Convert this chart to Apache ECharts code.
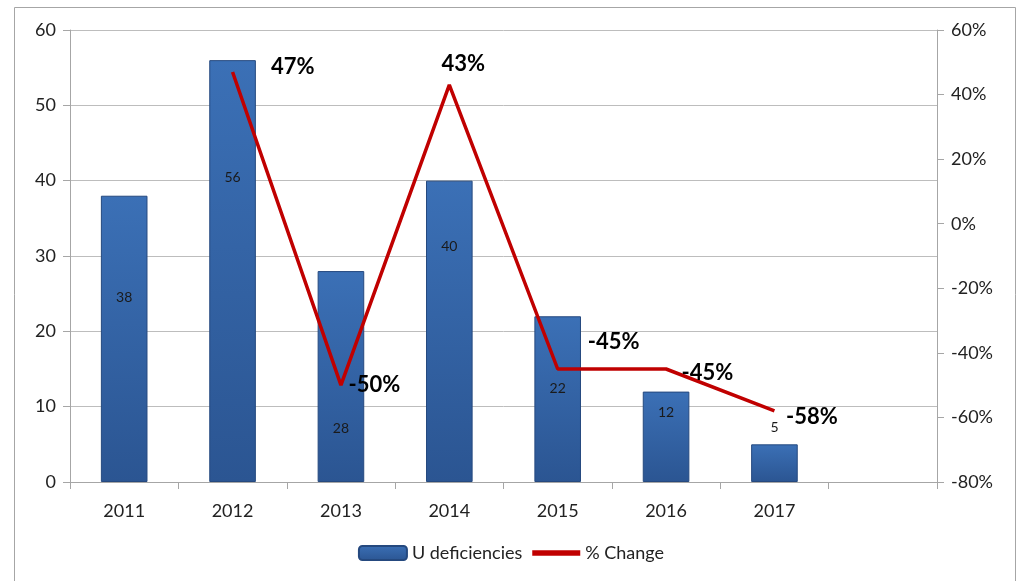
<!DOCTYPE html>
<html><head><meta charset="utf-8">
<script src="https://cdn.jsdelivr.net/npm/echarts@6/dist/echarts.min.js"></script>
<style>html,body{margin:0;padding:0;background:#fff}#c{width:1022px;height:581px}</style>
</head><body><div id="c"></div>
<script>
const categories = ['2011','2012','2013','2014','2015','2016','2017',''];
const deficiencies = [38, 56, 28, 40, 22, 12, 5];
const pctChange = [null, 0.47, -0.50, 0.43, -0.45, -0.45, -0.58];
const leftTicks = {min: 0, max: 60, interval: 10};
const rightTicks = {min: -0.8, max: 0.6, interval: 0.2};

// label placement styles (not data)
const barLabelOffsets = [[0,-41],[0,-94],[0,52],[0,-85],[0,-11],[0,-24],[0,-36]];
const lineLabelStyles = [null,
  {position:'right', offset:[33,-5]},
  {position:'right', offset:[2,0]},
  {position:'top', offset:[14,-4]},
  {position:'top', offset:[56,-11]},
  {position:'right', offset:[10,4]},
  {position:'right', offset:[6,6]}];

const font = 'Lato, "Open Sans", sans-serif';
const chart = echarts.init(document.getElementById('c'));
const barGrad = new echarts.graphic.LinearGradient(0,0,0,1,[
  {offset:0, color:'#3b70b6'},{offset:1, color:'#2b5592'}]);
chart.setOption({
  animation:false,
  graphic:[{type:'rect', shape:{x:14.5,y:7.5,width:1001,height:590},
    style:{fill:'none', stroke:'#a6a6a6', lineWidth:1}, z:-1}],
  grid:{left:70, right:85, top:30, bottom:99},
  legend:{bottom:14, left:'center', itemGap:10, itemWidth:48, itemHeight:14,
    textStyle:{fontFamily:font, fontSize:18, color:'#222'},
    data:[{name:'U deficiencies'},
      {name:'% Change', icon:'path://M0,0 L30,0 L30,3.5 L0,3.5 Z', itemStyle:{color:'#c00000', opacity:1}}]},
  xAxis:{type:'category', data:categories, boundaryGap:true,
    axisLine:{lineStyle:{color:'#a6a6a6'}},
    axisTick:{show:true, length:7, lineStyle:{color:'#a6a6a6'}},
    axisLabel:{fontFamily:font, fontSize:18, color:'#222', margin:20}},
  yAxis:[
    {type:'value', min:leftTicks.min, max:leftTicks.max, interval:leftTicks.interval,
      axisLine:{show:true, lineStyle:{color:'#a6a6a6'}},
      axisTick:{show:true, length:7, lineStyle:{color:'#a6a6a6'}},
      splitLine:{lineStyle:{color:'#bdbdbd'}},
      axisLabel:{fontFamily:font, fontSize:18, color:'#222', margin:14}},
    {type:'value', position:'right', min:rightTicks.min, max:rightTicks.max, interval:rightTicks.interval,
      axisLine:{show:true, lineStyle:{color:'#a6a6a6'}},
      axisTick:{show:true, length:7, lineStyle:{color:'#a6a6a6'}},
      splitLine:{show:false},
      axisLabel:{fontFamily:font, fontSize:18, color:'#222', margin:14,
        formatter:v=>Math.round(v*100)+'%'}}
  ],
  series:[
    {name:'U deficiencies', type:'bar', yAxisIndex:0, barWidth:'43%',
      itemStyle:{color:barGrad, borderColor:'#25497f', borderWidth:1},
      data:deficiencies.map((v,i)=>({value:v, label:{show:true, position:'inside',
        offset:barLabelOffsets[i], color:'#1a1a1a', fontFamily:font, fontSize:14}}))},
    {name:'% Change', type:'line', yAxisIndex:1, showSymbol:true, symbol:'circle', symbolSize:1,
      lineStyle:{color:'#c00000', width:3.5}, itemStyle:{color:'rgba(192,0,0,0)'},
      data:pctChange.map((v,i)=> v===null ? '-' : ({value:v, label:Object.assign({show:true,
        color:'#000', fontFamily:font, fontSize:22, fontWeight:'bold',
        formatter:p=>Math.round(p.value*100)+'%'}, lineLabelStyles[i])}))}
  ]
});
</script></body></html>
